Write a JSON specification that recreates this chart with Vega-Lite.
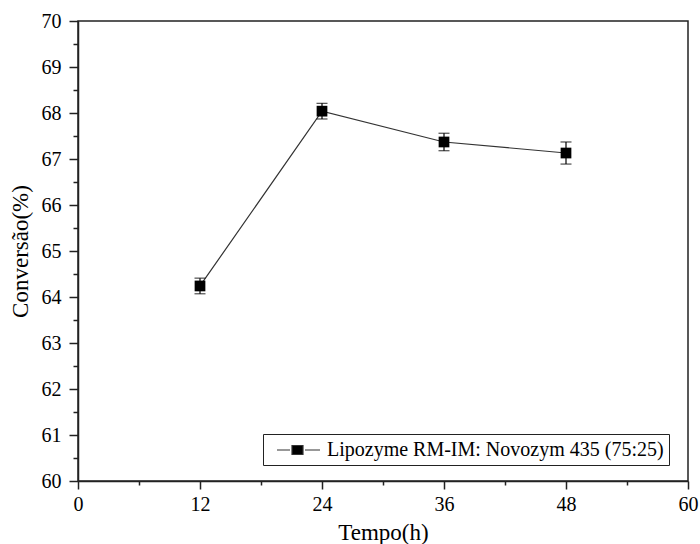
{
  "$schema": "https://vega.github.io/schema/vega-lite/v6.json",
  "width": 610,
  "height": 460,
  "autosize": {"type": "none"},
  "padding": {"left": 78, "top": 21, "right": 12, "bottom": 63},
  "background": "white",
  "config": {
    "view": {"stroke": "#222", "strokeWidth": 1.5},
    "font": "Liberation Serif",
    "axis": {"labelFont": "Liberation Serif", "titleFont": "Liberation Serif", "labelFlush": false}
  },
  "data": {
    "values": [
      {"t": 12, "conv": 64.24, "err": 0.17, "series": "Lipozyme RM-IM: Novozym 435 (75:25)"},
      {"t": 24, "conv": 68.04, "err": 0.17, "series": "Lipozyme RM-IM: Novozym 435 (75:25)"},
      {"t": 36, "conv": 67.37, "err": 0.19, "series": "Lipozyme RM-IM: Novozym 435 (75:25)"},
      {"t": 48, "conv": 67.13, "err": 0.24, "series": "Lipozyme RM-IM: Novozym 435 (75:25)"}
    ]
  },
  "encoding": {
    "x": {
      "field": "t", "type": "quantitative",
      "scale": {"domain": [0, 60], "nice": false, "zero": false},
      "axis": {
        "title": "Tempo(h)",
        "values": [0, 6, 12, 18, 24, 30, 36, 42, 48, 54, 60],
        "labelExpr": "datum.value % 12 === 0 ? format(datum.value, 'd') : ''",
        "labelFlush": false,
        "grid": false,
        "domainColor": "#222", "domainWidth": 1.5,
        "tickColor": "#222", "tickWidth": 1.5,
        "tickSize": {"condition": {"test": "datum.value % 12 === 0", "value": 8}, "value": 4},
        "labelFont": "Liberation Serif", "labelFontSize": 20, "labelColor": "black", "labelPadding": 5,
        "titleFont": "Liberation Serif", "titleFontSize": 23, "titleFontWeight": "normal", "titleColor": "black", "titlePadding": 7
      }
    },
    "y": {
      "field": "conv", "type": "quantitative",
      "scale": {"domain": [60, 70], "nice": false, "zero": false},
      "axis": {
        "title": "Conversão(%)",
        "values": [60, 60.5, 61, 61.5, 62, 62.5, 63, 63.5, 64, 64.5, 65, 65.5, 66, 66.5, 67, 67.5, 68, 68.5, 69, 69.5, 70],
        "labelExpr": "datum.value % 1 === 0 ? format(datum.value, 'd') : ''",
        "labelFlush": false,
        "grid": false,
        "domainColor": "#222", "domainWidth": 1.5,
        "tickColor": "#222", "tickWidth": 1.5,
        "tickSize": {"condition": {"test": "datum.value % 1 === 0", "value": 9}, "value": 5},
        "labelFont": "Liberation Serif", "labelFontSize": 20, "labelColor": "black", "labelPadding": 8,
        "titleFont": "Liberation Serif", "titleFontSize": 23, "titleFontWeight": "normal", "titleColor": "black", "titlePadding": 9
      }
    }
  },
  "layer": [
    {
      "mark": {"type": "line", "strokeWidth": 1.2},
      "encoding": {
        "color": {
          "field": "series", "type": "nominal",
          "scale": {"range": ["#333"]},
          "legend": {
            "title": null,
            "orient": "none",
            "legendX": 185,
            "legendY": 413,
            "symbolType": "M-0.2,0H1.1M2.6,0H4.1M1.3,-0.45H2.4V0.45H1.3Z",
            "symbolSize": 400,
            "symbolStrokeWidth": 1.2,
            "labelOffset": 37,
            "labelFont": "Liberation Serif",
            "labelFontSize": 20,
            "labelColor": "black",
            "labelLimit": 500,
            "padding": 5,
            "strokeColor": "#222",
            "fillColor": "white",
            "encode": {"symbols": {"update": {"fill": {"value": "black"}, "stroke": {"value": "#222"}}}}
          }
        }
      }
    },
    {
      "mark": {"type": "errorbar", "ticks": {"size": 11, "color": "black", "thickness": 1.2}, "rule": {"color": "black", "strokeWidth": 1.2}},
      "encoding": {
        "yError": {"field": "err"}
      }
    },
    {
      "mark": {"type": "point", "shape": "square", "filled": true, "color": "black", "size": 115, "opacity": 1},
      "encoding": {}
    }
  ]
}
